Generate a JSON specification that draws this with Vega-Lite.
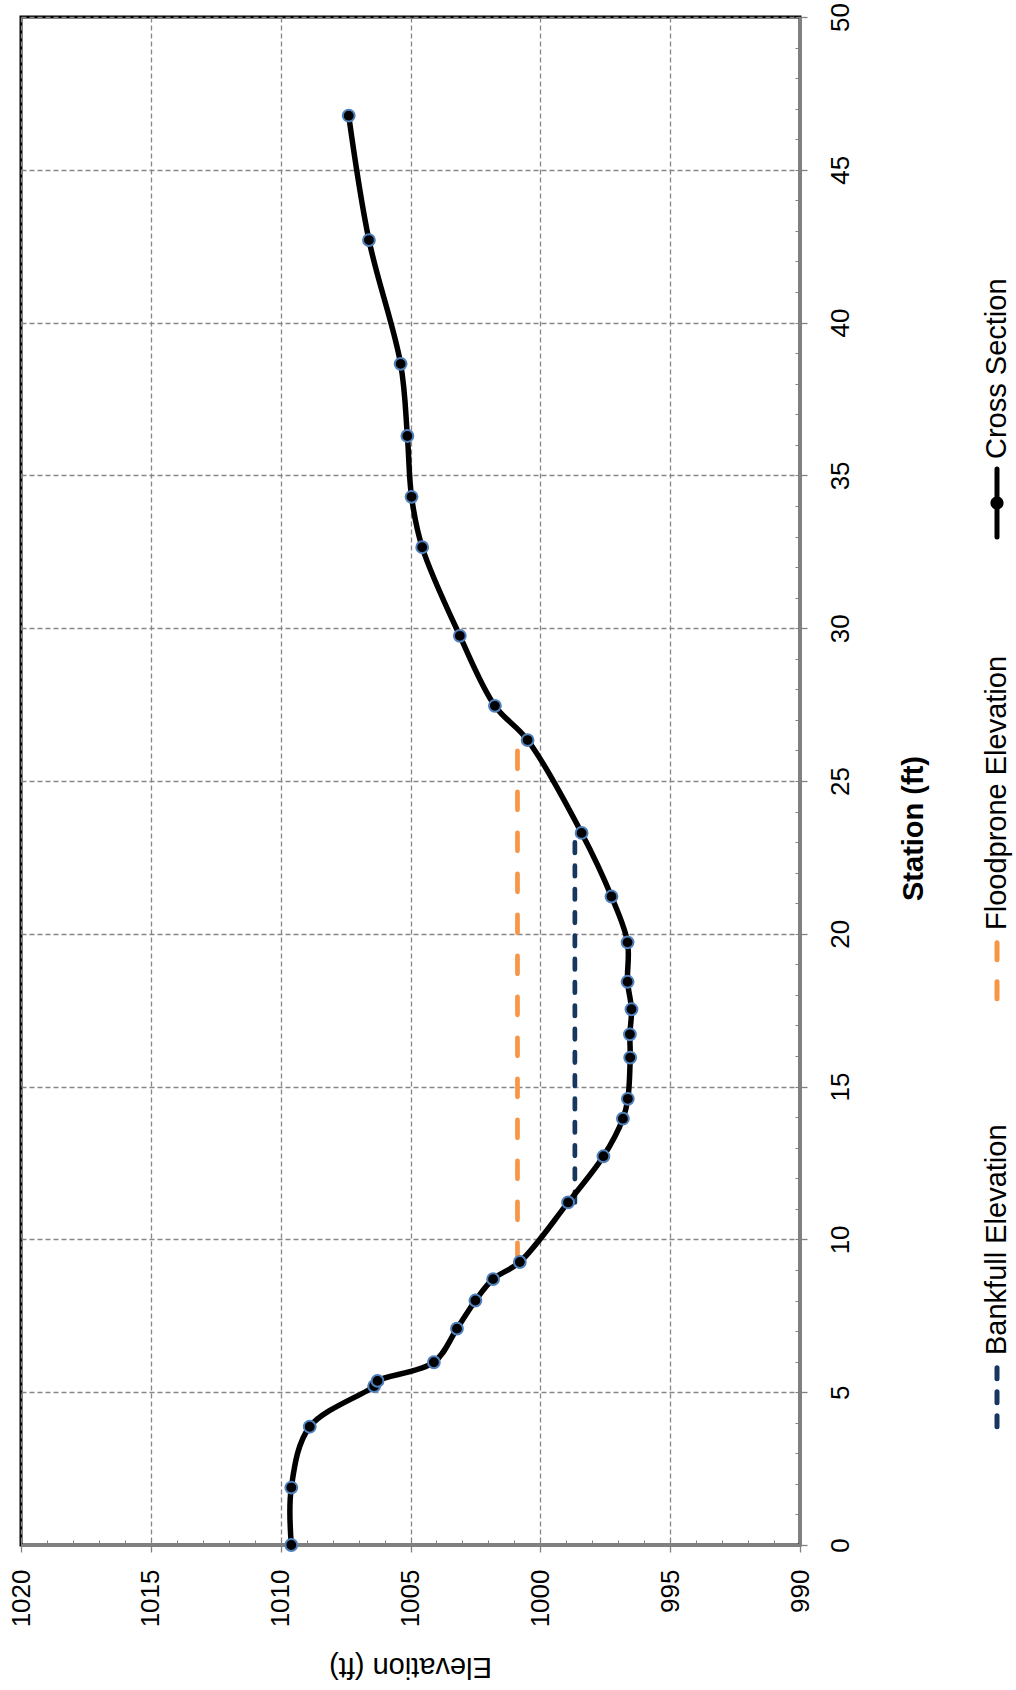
{
  "$schema": "https://vega.github.io/schema/vega-lite/v6.json",
  "width": 779,
  "height": 1528,
  "autosize": {"type": "none"},
  "padding": {"left": 21, "top": 17, "right": 216, "bottom": 145},
  "background": "white",
  "config": {
    "font": "Liberation Sans",
    "view": {"stroke": "black", "strokeWidth": 3},
    "axis": {"labelColor": "black", "titleColor": "black", "labelFont": "Liberation Sans", "titleFont": "Liberation Sans"}
  },
  "data": {
    "values": [
      {"series": "Cross Section", "station": 0, "elev": 1009.59},
      {"series": "Cross Section", "station": 1.88, "elev": 1009.59},
      {"series": "Cross Section", "station": 3.87, "elev": 1008.88},
      {"series": "Cross Section", "station": 5.2, "elev": 1006.4},
      {"series": "Cross Section", "station": 5.37, "elev": 1006.27},
      {"series": "Cross Section", "station": 5.98, "elev": 1004.1},
      {"series": "Cross Section", "station": 7.08, "elev": 1003.21},
      {"series": "Cross Section", "station": 8.0, "elev": 1002.5},
      {"series": "Cross Section", "station": 8.7, "elev": 1001.82},
      {"series": "Cross Section", "station": 9.26, "elev": 1000.79},
      {"series": "Cross Section", "station": 11.21, "elev": 998.93},
      {"series": "Cross Section", "station": 12.72, "elev": 997.57},
      {"series": "Cross Section", "station": 13.95, "elev": 996.82},
      {"series": "Cross Section", "station": 14.6, "elev": 996.63},
      {"series": "Cross Section", "station": 15.95, "elev": 996.54},
      {"series": "Cross Section", "station": 16.71, "elev": 996.55},
      {"series": "Cross Section", "station": 17.53, "elev": 996.49},
      {"series": "Cross Section", "station": 18.43, "elev": 996.64},
      {"series": "Cross Section", "station": 19.72, "elev": 996.64},
      {"series": "Cross Section", "station": 21.22, "elev": 997.26},
      {"series": "Cross Section", "station": 23.3, "elev": 998.41},
      {"series": "Cross Section", "station": 26.34, "elev": 1000.49},
      {"series": "Cross Section", "station": 27.46, "elev": 1001.75},
      {"series": "Cross Section", "station": 29.75, "elev": 1003.1},
      {"series": "Cross Section", "station": 32.65, "elev": 1004.55},
      {"series": "Cross Section", "station": 34.3, "elev": 1004.96},
      {"series": "Cross Section", "station": 36.29, "elev": 1005.12},
      {"series": "Cross Section", "station": 38.65, "elev": 1005.38},
      {"series": "Cross Section", "station": 42.7, "elev": 1006.6},
      {"series": "Cross Section", "station": 46.77, "elev": 1007.38},
      {"series": "Bankfull Elevation", "station": 11.21, "elev": 998.67},
      {"series": "Bankfull Elevation", "station": 23.3, "elev": 998.67},
      {"series": "Floodprone Elevation", "station": 9.3, "elev": 1000.88},
      {"series": "Floodprone Elevation", "station": 26.3, "elev": 1000.88}
    ]
  },
  "resolve": {"axis": {"x": "independent", "y": "independent"}},
  "layer": [
    {
      "transform": [{"filter": "datum.series === 'Floodprone Elevation'"}],
      "mark": {"type": "line", "strokeWidth": 4.7, "strokeDash": [18, 23], "strokeCap": "round"},
      "encoding": {
        "x": {"field": "elev", "type": "quantitative", "scale": {"domain": [990, 1020], "reverse": true, "nice": false, "zero": false}, "axis": null},
        "y": {"field": "station", "type": "quantitative", "scale": {"domain": [0, 50], "nice": false}, "axis": null},
        "order": {"field": "station"},
        "color": {"field": "series", "type": "nominal", "scale": {"domain": ["Cross Section", "Floodprone Elevation", "Bankfull Elevation"], "range": ["#000000", "#F79646", "#17375E"]},
          "legend": {
            "orient": "none", "legendX": 976, "legendY": 486, "direction": "vertical", "columns": 1,
            "title": null, "padding": 0, "rowPadding": 108, "labelFontSize": 29, "labelLimit": 600, "labelColor": "black",
            "labelFont": "Liberation Sans", "symbolSize": 100, "symbolStrokeWidth": 5,
            "encode": {
              "symbols": {"update": {
                "x": {"value": 0}, "y": {"value": 0},
                "shape": {"signal": "datum.value === 'Cross Section' ? 'M0,-1L0,1M0.12,0A0.12,0.12,0,1,1,-0.12,0A0.12,0.12,0,1,1,0.12,0Z' : 'M0,-1L0,1'"},
                "size": {"signal": "datum.value === 'Cross Section' ? 4600 : 3900"},
                "strokeWidth": {"value": 5},
                "strokeCap": {"value": "round"},
                "strokeDash": {"signal": "datum.value === 'Floodprone Elevation' ? [17, 22] : datum.value === 'Bankfull Elevation' ? [11, 13] : [1, 0]"},
                "fill": {"signal": "datum.value === 'Cross Section' ? 'black' : 'transparent'"},
                "opacity": {"value": 1}
              }},
              "labels": {"update": {
                "x": {"value": 0}, "y": {"value": -44},
                "angle": {"value": -90}, "align": {"value": "left"}, "baseline": {"value": "middle"}
              }}
            }
          }
        }
      }
    },
    {
      "transform": [{"filter": "datum.series === 'Bankfull Elevation'"}],
      "mark": {"type": "line", "strokeWidth": 4.7, "strokeDash": [10.5, 12.8], "strokeCap": "round"},
      "encoding": {
        "x": {"field": "elev", "type": "quantitative",
          "axis": {"orient": "bottom", "values": [990,991,992,993,994,995,996,997,998,999,1000,1001,1002,1003,1004,1005,1006,1007,1008,1009,1010,1011,1012,1013,1014,1015,1016,1017,1018,1019,1020],
            "tickSize": -5, "tickColor": "#808080", "tickWidth": 1, "labels": false, "grid": false, "domain": false, "title": null}},
        "y": {"field": "station", "type": "quantitative",
          "axis": {"orient": "right", "values": [0,1,2,3,4,5,6,7,8,9,10,11,12,13,14,15,16,17,18,19,20,21,22,23,24,25,26,27,28,29,30,31,32,33,34,35,36,37,38,39,40,41,42,43,44,45,46,47,48,49,50],
            "tickSize": -5, "tickColor": "#808080", "tickWidth": 1, "labels": false, "grid": false, "domain": false, "title": null}},
        "order": {"field": "station"},
        "color": {"field": "series", "type": "nominal"}
      }
    },
    {
      "transform": [{"filter": "datum.series === 'Cross Section'"}],
      "mark": {"type": "line", "strokeWidth": 5.5, "interpolate": "catmull-rom", "strokeCap": "round", "strokeJoin": "round"},
      "encoding": {
        "x": {"field": "elev", "type": "quantitative",
          "axis": {"orient": "bottom", "values": [990, 995, 1000, 1005, 1010, 1015, 1020], "format": "d",
            "grid": true, "gridColor": "#868686", "gridDash": [5, 3], "gridWidth": 1.3,
            "domain": true, "domainColor": "#808080", "domainWidth": 3,
            "ticks": true, "tickSize": 7, "tickColor": "#808080", "tickWidth": 1.3,
            "labelAngle": 270, "labelAlign": "right", "labelBaseline": "middle", "labelPadding": 17, "labelFontSize": 26,
            "title": "Elevation (ft)", "titleFontSize": 29, "titleFontWeight": "normal", "titleAngle": 180,
            "titleAlign": "center", "titleBaseline": "middle", "titleX": 389, "titleY": 121}},
        "y": {"field": "station", "type": "quantitative",
          "axis": {"orient": "right", "values": [0, 5, 10, 15, 20, 25, 30, 35, 40, 45, 50], "format": "d",
            "grid": true, "gridColor": "#868686", "gridDash": [5, 3], "gridWidth": 1.3,
            "domain": true, "domainColor": "#808080", "domainWidth": 3,
            "ticks": true, "tickSize": 7, "tickColor": "#808080", "tickWidth": 1.3,
            "labelAngle": 270, "labelAlign": "center", "labelBaseline": "top", "labelPadding": 20, "labelFontSize": 26,
            "title": "Station (ft)", "titleFontSize": 29, "titleFontWeight": "bold", "titleAngle": 270,
            "titleAlign": "center", "titleBaseline": "middle", "titleX": 113, "titleY": 811}},
        "order": {"field": "station"},
        "color": {"field": "series", "type": "nominal"}
      }
    },
    {
      "transform": [{"filter": "datum.series === 'Cross Section'"}],
      "mark": {"type": "point", "filled": true, "fill": "#000000", "stroke": "#4F81BD", "strokeWidth": 2, "size": 140, "opacity": 1},
      "encoding": {
        "x": {"field": "elev", "type": "quantitative", "axis": null},
        "y": {"field": "station", "type": "quantitative", "axis": null}
      }
    }
  ]
}
